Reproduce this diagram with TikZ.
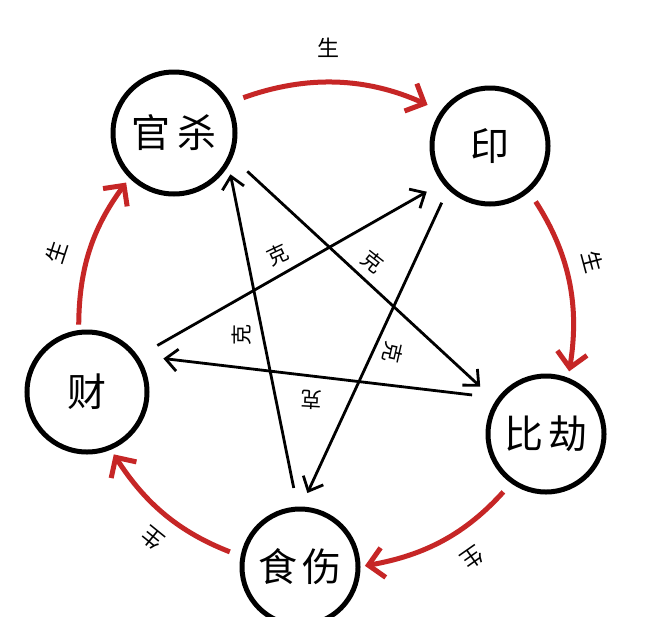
\documentclass[tikz,border=0pt]{standalone}
\usepackage{fontspec}
\newfontfamily\cjk{Noto Sans CJK SC}
\usetikzlibrary{arrows.meta}
\definecolor{genred}{RGB}{198,38,38}
\begin{document}
\begin{tikzpicture}[x=1pt,y=-1pt,
  elem/.style={circle,draw=black,line width=5pt,inner sep=0pt,outer sep=0pt,
    font=\cjk\fontsize{39}{41}\selectfont},
  gen/.style={draw=genred,line width=5pt,-{Straight Barb[length=15pt,width=30pt]}},
  ke/.style={draw=black,line width=2.8pt,-{Straight Barb[length=12pt,width=22pt]}},
  shenglbl/.style={font=\cjk\fontsize{22}{24}\selectfont,inner sep=0pt},
  kelbl/.style={font=\cjk\fontsize{21}{23}\selectfont,inner sep=0pt},
]
\useasboundingbox (0,0) rectangle (652,616);
\fill[white] (0,0) rectangle (652,616);

% elements
\node[elem,minimum size=122pt] (gs)  at (174,133) {官\hspace{8pt}杀};
\node[elem,minimum size=116pt] (yin) at (490,146) {印};
\node[elem,minimum size=116pt] (bj)  at (546,434) {比\hspace{6pt}劫};
\node[elem,minimum size=116pt] (ss)  at (300,567) {食\hspace{6pt}伤};
\node[elem,minimum size=120pt] (cai) at (87,392)  {财};

% generating cycle (red)
\draw[gen,shorten <=17pt,shorten >=17pt] (gs.29)   to[bend left=22] (yin.144);
\draw[gen,shorten <=14pt,shorten >=9pt]  (yin.-49) to[bend left=21] (bj.68);
\draw[gen,shorten <=14pt,shorten >=7pt]  (bj.-125) to[bend left=19] (ss.0);
\draw[gen,shorten <=14pt,shorten >=8pt]  (ss.170)  to[bend left=18] (cai.-68);
\draw[gen,shorten <=8pt,shorten >=8pt]   (cai.98)  to[bend left=18] (gs.225);

% controlling star (black)
\draw[ke,shorten <=21.5pt,shorten >=12.9pt] (ss.92.8)   -- (gs.-28.8);
\draw[ke,shorten <=22.8pt,shorten >=23.3pt] (gs.-22.7)  -- (bj.147.5);
\draw[ke,shorten <=24.4pt,shorten >=20.2pt] (cai.35.6)  -- (yin.218.4);
\draw[ke,shorten <=17.3pt,shorten >=17.6pt] (yin.225.4) -- (ss.90.4);
\draw[ke,shorten <=28.4pt,shorten >=29.3pt] (bj.142.1)  -- (cai.38.6);

% labels
\node[shenglbl] (s1) at (328,48)  {生};
\node[shenglbl,rotate=-75]  (s2) at (593,262) {生};
\node[shenglbl,rotate=-145] (s3) at (472,558) {生};
\node[shenglbl,rotate=141]  (s4) at (152,538) {生};
\node[shenglbl,rotate=72]   (s5) at (57,252)  {生};

\node[kelbl,rotate=25]   (k1) at (278,255) {克};
\node[kelbl,rotate=-38]  (k2) at (373,262) {克};
\node[kelbl,rotate=90]   (k3) at (242,335) {克};
\node[kelbl,rotate=-103] (k4) at (393,353) {克};
\node[kelbl,rotate=177]  (k5) at (312,400) {克};
\end{tikzpicture}
\end{document}
